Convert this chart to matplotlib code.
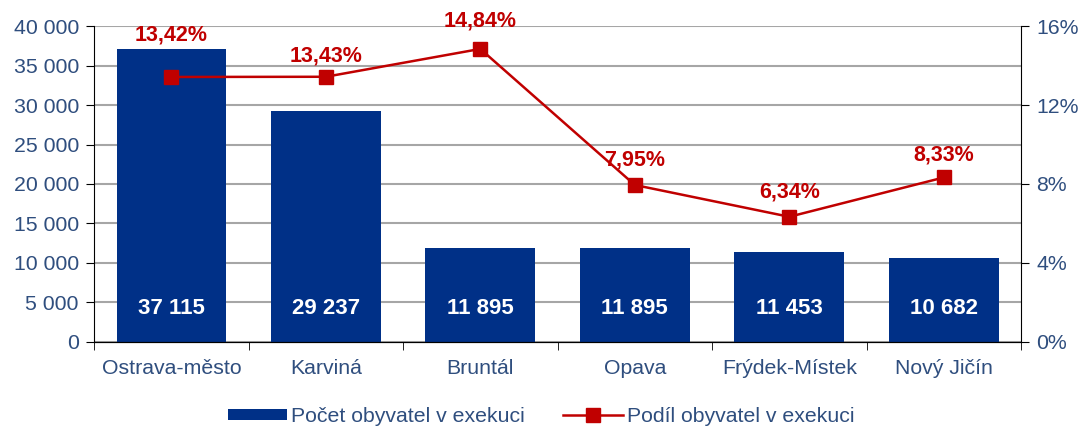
import numpy as np
import matplotlib.pyplot as plt
from matplotlib.ticker import FuncFormatter, MultipleLocator

plt.rcParams['font.family'] = ['Liberation Sans', 'DejaVu Sans']

districts = ['Ostrava-město', 'Karviná', 'Bruntál', 'Opava', 'Frýdek-Místek', 'Nový Jičín']
counts = [37115, 29237, 11895, 11895, 11453, 10682]
shares = [13.42, 13.43, 14.84, 7.95, 6.34, 8.33]
# vertical offset of each percent label above its marker, in points
label_offsets = [30, 15, 20, 18, 18, 16]

blue = '#003087'
red = '#C00000'
txt = '#2F4E7E'

fig, ax = plt.subplots(figsize=(10.82, 4.3), dpi=100)
fig.subplots_adjust(left=0.087, right=0.9436, top=0.9395, bottom=0.2047)

x = np.arange(len(districts))
ax.bar(x, counts, width=0.71, color=blue, zorder=2, label='Počet obyvatel v exekuci')
for xi, c in zip(x, counts):
    ax.text(xi, 4200, f'{c:,}'.replace(',', ' '), ha='center', va='center',
            color='white', fontsize=16, fontweight='bold', zorder=3)

ax.set_ylim(0, 40000)
ax.set_xlim(-0.5, len(districts) - 0.5)
ax.yaxis.set_major_locator(MultipleLocator(5000))
ax.yaxis.set_major_formatter(FuncFormatter(lambda v, p: f'{int(v):,}'.replace(',', ' ')))
ax.grid(axis='y', color='#A6A6A6', linewidth=1.5, zorder=0)
ax.set_axisbelow(True)
ax.set_xticks(x)
ax.set_xticklabels(districts)
ax.set_xticks(np.arange(-0.5, len(districts)), minor=True)
ax.tick_params(axis='x', which='major', length=0, pad=12, labelsize=15.3, labelcolor=txt)
ax.tick_params(axis='x', which='minor', length=6, color='black')
ax.tick_params(axis='y', length=6, labelsize=15.3, labelcolor=txt, pad=5)
ax.spines['top'].set_visible(False)
ax.spines['right'].set_visible(False)

ax2 = ax.twinx()
ax2.plot(x, shares, color=red, linewidth=1.8, marker='s', markersize=10,
         label='Podíl obyvatel v exekuci', zorder=4)
for xi, s, off in zip(x, shares, label_offsets):
    ax2.annotate(f'{s:.2f}%'.replace('.', ','), (xi, s), xytext=(0, off),
                 textcoords='offset points', ha='center', va='center',
                 color=red, fontsize=15.5, fontweight='bold')
ax2.set_ylim(0, 16)
ax2.yaxis.set_major_locator(MultipleLocator(4))
ax2.yaxis.set_major_formatter(FuncFormatter(lambda v, p: f'{int(v)}%'))
ax2.tick_params(axis='y', length=6, labelsize=15.3, labelcolor=txt, pad=5)
ax2.spines['top'].set_visible(False)
ax2.spines['left'].set_visible(False)

h1, l1 = ax.get_legend_handles_labels()
h2, l2 = ax2.get_legend_handles_labels()
leg = fig.legend(h1 + h2, l1 + l2, loc='lower center', bbox_to_anchor=(0.5, -0.035),
                 ncol=2, frameon=False, fontsize=15.3, handlelength=2.8, handleheight=0.45,
                 columnspacing=1.8, handletextpad=0.2)
for t in leg.get_texts():
    t.set_color(txt)

fig.savefig('out.png', dpi=100)
